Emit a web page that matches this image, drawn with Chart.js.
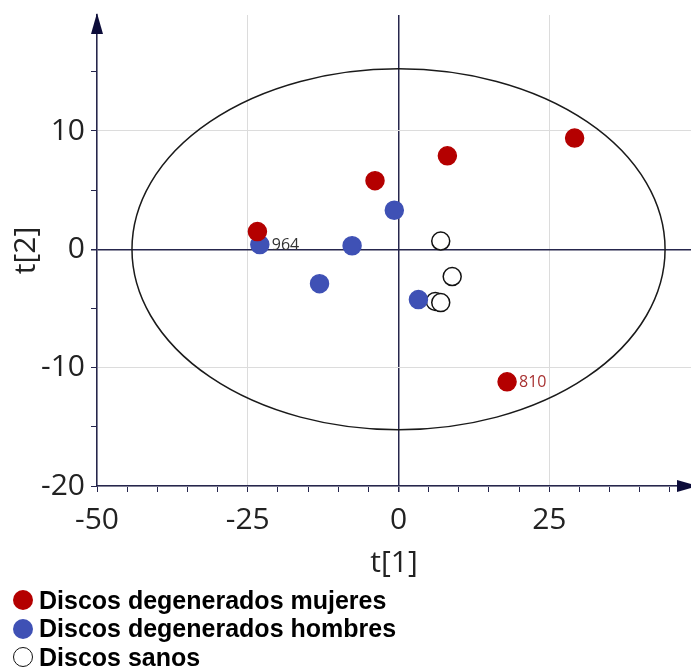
<!DOCTYPE html>
<html>
<head>
<meta charset="utf-8">
<script src="https://cdn.jsdelivr.net/npm/chart.js@4"></script>
<style>
    html, body { margin: 0; padding: 0; background: #fff; overflow: hidden; }
    #wrap { position: relative; width: 691px; height: 670px; }
    #chart { display: block; }
    #legend { position: absolute; left: 0; top: 586px; font: bold 25px 'Liberation Sans', Arial, sans-serif; color: #000; }
    .row { display: flex; align-items: center; height: 28.5px; white-space: nowrap; }
    .dot { box-sizing: border-box; width: 20px; height: 20px; border-radius: 50%; margin: 0 6px 0 13px; }
</style>
</head>
<body>
<div id="wrap">
    <canvas id="chart"></canvas>
    <div id="legend"></div>
</div>
<script>
const seriesNames = ['Discos degenerados mujeres', 'Discos degenerados hombres', 'Discos sanos'];

const mujeresT1 = [29.2, 8.1, -3.9, -23.4, 18.0];
const mujeresT2 = [9.4, 7.9, 5.8, 1.5, -11.2];
const mujeresIds = ['', '', '', '', '810'];

const hombresT1 = [-0.7, -7.7, -23.0, -13.1, 3.3];
const hombresT2 = [3.3, 0.3, 0.4, -2.9, -4.25];
const hombresIds = ['', '', '964', '', ''];

const sanosT1 = [7.0, 8.9, 6.1, 7.0];
const sanosT2 = [0.7, -2.3, -4.4, -4.5];
const sanosIds = ['', '', '', ''];

const xTickLabels = [-50, -25, 0, 25];
const yTickLabels = [-20, -10, 0, 10];

// Hotelling T2 ellipse, radii in t[1] / t[2] units
const ellipseRadii = [44.2, 15.25];

const AXIS = '#26264d';
const GRID = '#dcdcdc';
const RED = '#b40000';
const BLUE = '#3f51b5';

const toPoints = (xs, ys) => xs.map((x, i) => ({ x, y: ys[i] }));

const datasets = [
    { label: seriesNames[0], data: toPoints(mujeresT1, mujeresT2), ids: mujeresIds, idColor: '#a83232',
      backgroundColor: RED, borderColor: RED, pointRadius: 9, borderWidth: 1.5 },
    { label: seriesNames[1], data: toPoints(hombresT1, hombresT2), ids: hombresIds, idColor: '#333',
      backgroundColor: BLUE, borderColor: BLUE, pointRadius: 9, borderWidth: 1.5 },
    { label: seriesNames[2], data: toPoints(sanosT1, sanosT2), ids: sanosIds, idColor: '#333',
      backgroundColor: '#fff', borderColor: '#111', pointRadius: 9, borderWidth: 1.5 },
];

const ellipsePlugin = {
    id: 'ellipse',
    beforeDatasetsDraw(chart) {
        const { ctx, scales: { x, y } } = chart;
        const cx = x.getPixelForValue(0);
        const cy = y.getPixelForValue(0);
        const rx = x.getPixelForValue(ellipseRadii[0]) - cx;
        const ry = cy - y.getPixelForValue(ellipseRadii[1]);
        ctx.save();
        ctx.strokeStyle = '#1a1a1a';
        ctx.lineWidth = 1.5;
        ctx.beginPath();
        ctx.ellipse(cx, cy, rx, ry, 0, 0, Math.PI * 2);
        ctx.stroke();
        ctx.restore();
    },
};

const idPlugin = {
    id: 'pointIds',
    afterDatasetsDraw(chart) {
        const { ctx } = chart;
        ctx.save();
        ctx.font = '16px "Open Sans"';
        ctx.textAlign = 'left';
        ctx.textBaseline = 'middle';
        chart.data.datasets.forEach((ds, di) => {
            chart.getDatasetMeta(di).data.forEach((pt, i) => {
                if (!ds.ids[i]) return;
                ctx.fillStyle = ds.idColor;
                ctx.fillText(ds.ids[i], pt.x + 12, pt.y + 1);
            });
        });
        ctx.restore();
    },
};

// arrow heads on the y axis top and x axis right end
const arrowPlugin = {
    id: 'arrows',
    afterDraw(chart) {
        const { ctx, chartArea: a } = chart;
        ctx.save();
        ctx.fillStyle = '#0d0d3a';
        ctx.beginPath();
        ctx.moveTo(a.left, a.top - 2);
        ctx.lineTo(a.left - 6, a.top + 19);
        ctx.lineTo(a.left + 6, a.top + 19);
        ctx.fill();
        ctx.beginPath();
        ctx.moveTo(a.right + 7, a.bottom);
        ctx.lineTo(a.right - 14, a.bottom - 6);
        ctx.lineTo(a.right - 14, a.bottom + 6);
        ctx.fill();
        ctx.restore();
    },
};

const gridColor = (labels) => (c) => {
    const v = c.tick.value;
    if (v === 0) return AXIS;
    return labels.includes(v) ? GRID : 'rgba(0,0,0,0)';
};

const tickFont = { family: 'Open Sans', size: 30 };

new Chart(document.getElementById('chart'), {
    type: 'scatter',
    data: { datasets },
    options: {
        responsive: true,
        maintainAspectRatio: false,
        animation: false,
        layout: { autoPadding: false, padding: { top: 15, right: 0, bottom: 85, left: 0 } },
        plugins: { legend: { display: false }, tooltip: { enabled: false } },
        scales: {
            x: {
                min: -50, max: 48.5,
                afterFit: (s) => { s.height = 99; s.paddingLeft = 0; s.paddingRight = 0; },
                ticks: {
                    stepSize: 5, includeBounds: false, autoSkip: false, maxRotation: 0,
                    padding: 10, color: '#222', font: tickFont,
                    callback: (v) => xTickLabels.includes(v) ? String(v) : '',
                },
                grid: {
                    color: gridColor(xTickLabels),
                    lineWidth: (c) => c.tick.value === 0 ? 1.5 : 1,
                    tickColor: AXIS, tickLength: 6,
                },
                border: { color: AXIS, width: 1.5 },
                title: { display: true, text: 't[1]', color: '#222', font: tickFont, padding: { top: 0, bottom: 4 } },
            },
            y: {
                min: -20, max: 19.8,
                afterFit: (s) => { s.width = 97; s.paddingTop = 0; s.paddingBottom = 0; },
                ticks: {
                    stepSize: 5, includeBounds: false, autoSkip: false,
                    padding: 6, color: '#222', font: tickFont,
                    callback: (v) => yTickLabels.includes(v) ? String(v) : '',
                },
                grid: {
                    color: gridColor(yTickLabels),
                    lineWidth: (c) => c.tick.value === 0 ? 1.5 : 1,
                    tickColor: AXIS, tickLength: 6,
                },
                border: { color: AXIS, width: 1.5 },
                title: { display: true, text: 't[2]', color: '#222', font: tickFont, padding: { top: 8, bottom: 0 } },
            },
        },
    },
    plugins: [ellipsePlugin, idPlugin, arrowPlugin],
});

const legend = document.getElementById('legend');
datasets.forEach((ds) => {
    const row = document.createElement('div');
    row.className = 'row';
    const dot = document.createElement('span');
    dot.className = 'dot';
    dot.style.background = ds.backgroundColor;
    dot.style.border = ds.backgroundColor === '#fff' ? '1.5px solid #111' : 'none';
    const txt = document.createElement('span');
    txt.textContent = ds.label;
    row.append(dot, txt);
    legend.append(row);
});
</script>
</body>
</html>
